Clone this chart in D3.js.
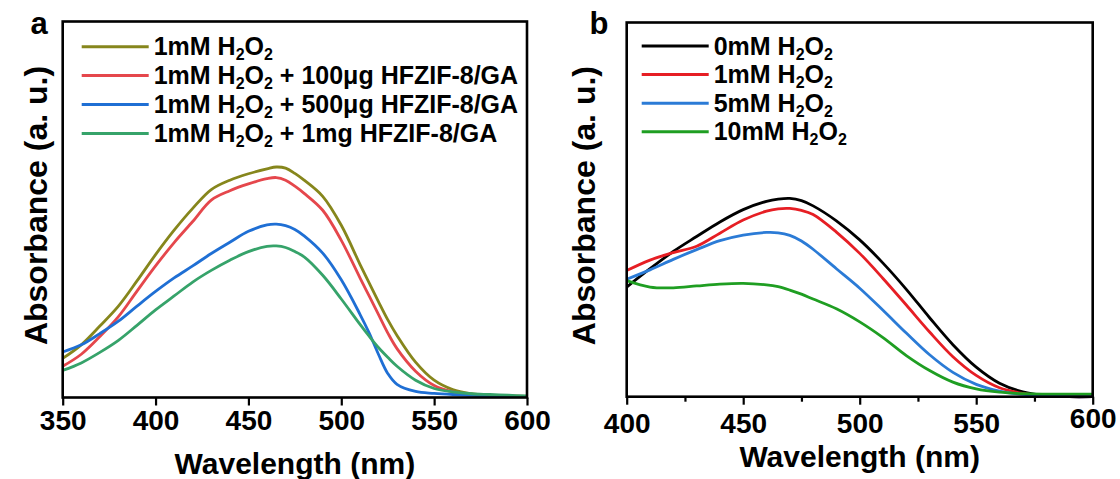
<!DOCTYPE html>
<html>
<head>
<meta charset="utf-8">
<script src="https://cdn.jsdelivr.net/npm/d3@7"></script>
<style>
  body { margin: 0; background: #fff; }
  text { font-family: "Liberation Sans", Arial, sans-serif; font-weight: bold; fill: #000; }
</style>
</head>
<body>
<div id="chart"></div>
<script>
// panel a data (absorbance, arbitrary units)
var wavelengthA = [350, 360, 370, 380, 390, 400, 410, 420, 430, 440, 450, 460, 465, 470, 475, 480, 490, 500, 510, 515, 520, 525, 530, 540, 550, 560, 570, 580, 590, 600];
var h2o2Only   = [.104, .140, .190, .243, .310, .380, .445, .503, .553, .578, .595, .608, .613, .610, .596, .578, .535, .458, .355, .305, .255, .207, .165, .094, .046, .021, .010, .005, .004, .003];
var plus100ug  = [.083, .115, .162, .215, .283, .350, .412, .468, .525, .550, .568, .582, .585, .578, .562, .543, .498, .418, .319, .270, .221, .172, .130, .070, .032, .015, .008, .005, .004, .003];
var plus500ug  = [.121, .140, .170, .203, .243, .282, .318, .350, .383, .413, .442, .459, .461, .457, .447, .430, .384, .313, .222, .172, .115, .064, .035, .016, .011, .008, .006, .004, .003, .003];
var plus1mg    = [.072, .092, .120, .152, .192, .233, .270, .307, .338, .365, .388, .402, .403, .399, .388, .374, .325, .262, .195, .163, .133, .107, .083, .046, .024, .015, .010, .008, .006, .004];

// panel b data
var wavelengthB = [400, 410, 420, 430, 440, 450, 460, 465, 470, 475, 480, 490, 500, 510, 520, 530, 540, 550, 560, 570, 580, 590, 600];
var h2o2_0mM  = [.293, .342, .388, .428, .467, .500, .522, .528, .530, .524, .510, .470, .419, .357, .287, .211, .139, .079, .036, .013, .003, 0, 0];
var h2o2_1mM  = [.337, .365, .385, .402, .437, .472, .496, .502, .503, .498, .487, .440, .383, .316, .245, .173, .107, .057, .024, .009, .002, 0, 0];
var h2o2_5mM  = [.314, .339, .367, .393, .417, .432, .439, .438, .431, .416, .394, .342, .290, .231, .170, .112, .065, .033, .015, .006, .002, 0, 0];
var h2o2_10mM = [.310, .293, .291, .296, .301, .303, .299, .294, .285, .274, .261, .235, .200, .158, .110, .070, .039, .021, .012, .008, .007, .007, .007];

var labelsA = ["1mM H2O2", "1mM H2O2 + 100μg HFZIF-8/GA", "1mM H2O2 + 500μg HFZIF-8/GA", "1mM H2O2 + 1mg HFZIF-8/GA"];
var labelsB = ["0mM H2O2", "1mM H2O2", "5mM H2O2", "10mM H2O2"];
var colorsA = ["#86861c", "#e5474c", "#1f6fd4", "#36a36a"];
var colorsB = ["#000000", "#e61e24", "#2b7bd6", "#1f9e22"];
var ticksA = [350, 400, 450, 500, 550, 600];
var ticksB = [400, 450, 500, 550, 600];
var minorB = [425, 475, 525, 575];

var svg = d3.select("#chart").append("svg")
    .attr("width", 1120)
    .attr("height", 479);

// write "H2O2" with subscripts
function addLabel(textSel, str) {
    var parts = str.split("H2O2");
    textSel.append("tspan").text(parts[0] + "H");
    textSel.append("tspan").attr("font-size", 16).attr("dy", 5).text("2");
    textSel.append("tspan").attr("dy", -5).text("O");
    textSel.append("tspan").attr("font-size", 16).attr("dy", 5).text("2");
    if (parts[1]) textSel.append("tspan").attr("dy", -5).text(parts[1]);
}

function drawPanel(p) {
    var x = d3.scaleLinear().domain(p.xDomain).range([p.left, p.right]);
    var y = d3.scaleLinear().domain([0, 1]).range([p.bottom, p.top]);

    var line = d3.line()
        .x(function(d, i) { return x(p.wl[i]); })
        .y(function(d) { return y(d); })
        .curve(d3.curveCatmullRom.alpha(0.5));

    p.series.forEach(function(s, i) {
        svg.append("path")
            .attr("d", line(s))
            .attr("fill", "none")
            .attr("stroke", p.colors[i])
            .attr("stroke-width", 2.8)
            .attr("stroke-linejoin", "round");
    });

    var axis = svg.append("g")
        .attr("transform", `translate(0, ${p.bottom})`)
        .call(d3.axisBottom(x).tickValues(p.ticks).tickSizeInner(8).tickSizeOuter(0));
    axis.select(".domain").remove();
    axis.selectAll(".tick line").attr("stroke", "#000").attr("stroke-width", 2.2);
    axis.selectAll(".tick text")
        .attr("y", p.labelY)
        .attr("dy", 0)
        .attr("font-size", 28)
        .attr("font-family", null);

    if (p.minor) {
        var minorAxis = svg.append("g")
            .attr("transform", `translate(0, ${p.bottom})`)
            .call(d3.axisBottom(x).tickValues(p.minor).tickSizeInner(5).tickSizeOuter(0).tickFormat(""));
        minorAxis.select(".domain").remove();
        minorAxis.selectAll(".tick line").attr("stroke", "#000").attr("stroke-width", 2.2);
    }
    if (p.lastLabelShift) {
        axis.selectAll(".tick text").filter(function(d) { return d === 600; })
            .attr("y", p.labelY - p.lastLabelShift);
    }

    svg.append("rect")
        .attr("x", p.left)
        .attr("y", p.top)
        .attr("width", p.right - p.left)
        .attr("height", p.bottom - p.top)
        .attr("fill", "none")
        .attr("stroke", "#000")
        .attr("stroke-width", 2.6);

    svg.append("text")
        .attr("x", (p.left + p.right) / 2)
        .attr("y", p.titleY)
        .attr("text-anchor", "middle")
        .attr("font-size", 30)
        .text("Wavelength (nm)");

    svg.append("text")
        .attr("transform", `translate(${p.yLabelX}, ${(p.top + p.bottom) / 2 - 4}) rotate(-90)`)
        .attr("text-anchor", "middle")
        .attr("font-size", 32)
        .text("Absorbance (a. u.)");

    svg.append("text")
        .attr("x", p.letterX)
        .attr("y", 34)
        .attr("text-anchor", "middle")
        .attr("font-size", 31)
        .text(p.letter);

    var legend = svg.append("g");
    p.labels.forEach(function(lab, i) {
        var ly = p.legendTop + i * p.legendStep;
        legend.append("line")
            .attr("x1", p.legendX)
            .attr("x2", p.legendX + 67)
            .attr("y1", ly)
            .attr("y2", ly)
            .attr("stroke", p.colors[i])
            .attr("stroke-width", 3);
        var t = legend.append("text")
            .attr("x", p.legendX + 72)
            .attr("y", ly + 8.5)
            .attr("font-size", 25);
        addLabel(t, lab);
    });
}

drawPanel({
    left: 62.7, right: 527, top: 21.5, bottom: 397.5,
    xDomain: [350, 600], wl: wavelengthA,
    series: [h2o2Only, plus100ug, plus500ug, plus1mg],
    colors: colorsA, labels: labelsA, ticks: ticksA,
    labelY: 32.5, titleY: 474, yLabelX: 47, letter: "a", letterX: 39,
    legendX: 81.7, legendTop: 46.7, legendStep: 28.9
});

drawPanel({
    left: 626.7, right: 1092.7, top: 22.5, bottom: 396.7,
    xDomain: [400, 600], wl: wavelengthB,
    series: [h2o2_0mM, h2o2_1mM, h2o2_5mM, h2o2_10mM],
    colors: colorsB, labels: labelsB, ticks: ticksB, minor: minorB,
    labelY: 36.5, lastLabelShift: 5, titleY: 467, yLabelX: 595, letter: "b", letterX: 599,
    legendX: 641.7, legendTop: 46, legendStep: 28.6
});
</script>
</body>
</html>
